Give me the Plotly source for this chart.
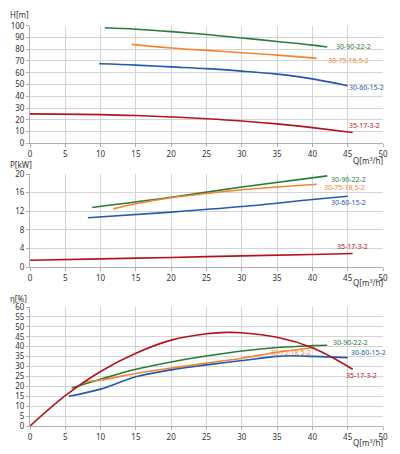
import plotly.graph_objects as go

# pump models
names = ['30-90-22-2', '30-75-18,5-2', '30-60-15-2', '35-17-3-2']
colors = ['#2a7a3b', '#f5842e', '#2359b0', '#b3141c']

# head curves H[m]
h_q = [
    [10.6, 15, 20, 25, 30, 35, 40, 42.1],
    [14.4, 20, 25, 30, 35, 40, 40.6],
    [9.8, 15, 20, 25, 30, 35, 40, 45],
    [0, 10, 15, 20, 25, 30, 35, 40, 45.7],
]
h_val = [
    [98.2, 97, 95, 92.5, 89.6, 86.6, 83.5, 81.9],
    [84.1, 81, 79, 77, 75, 72.6, 72.2],
    [67.6, 66.5, 65, 63.5, 61.4, 58.8, 54.8, 49],
    [25, 24.4, 23.6, 22.4, 20.9, 19, 16.5, 13.3, 9.2],
]

# power curves P[kW]
p_q = [
    [8.8, 20, 30, 42.1],
    [11.8, 15, 20, 25, 30, 35, 40.6],
    [8.2, 20, 30, 40, 45],
    [0, 10, 20, 30, 40, 45.7],
]
p_val = [
    [12.8, 15, 17.2, 19.6],
    [12.5, 13.6, 14.9, 15.8, 16.6, 17.2, 17.8],
    [10.6, 11.8, 13.0, 14.5, 15.2],
    [1.45, 1.75, 2.05, 2.4, 2.7, 2.9],
]

# efficiency curves eta[%]
e_q = [
    [5.9, 10, 15, 20, 25, 30, 35, 40, 42.1],
    [7.5, 10, 15, 20, 25, 30, 35, 40.3],
    [5.5, 10, 15, 20, 25, 30, 35, 37, 40, 45],
    [0, 5, 10, 15, 20, 25, 28, 30, 35, 40, 42.7, 45.7],
]
e_val = [
    [19.2, 23.6, 28.6, 32.3, 35.3, 37.8, 39.6, 40.5, 40.7],
    [22.2, 23.2, 26.5, 29.2, 31.7, 34.2, 37.2, 39.6],
    [15.0, 18.6, 24.8, 28.3, 30.8, 33.0, 35.1, 35.4, 35.1, 34.5],
    [0, 15.3, 27.5, 36.7, 43.3, 46.5, 47.2, 47.0, 44.7, 39.5, 34.8, 28.6],
]

# label positions (x, y) for each panel
h_lab = [(43.2, 82), (42.0, 70.2), (45.1, 47.4), (45.1, 15.2)]
p_lab = [(42.5, 18.9), (41.5, 17.1), (42.5, 13.8), (43.4, 4.4)]
e_lab = [(42.8, 42.3), (33.8, 37.2), (45.3, 37.1), (44.6, 25.5)]

# page has an 8px body margin, so the figure is drawn 8px in from the corner
OFF = 8
W, H = 400 - OFF, 454 - OFF


def px(x):
    return (x - OFF) / W


def py(y):
    return 1 - (y - OFF) / H


fig = go.Figure()

panels = [
    ('x', 'y', h_q, h_val, h_lab),
    ('x2', 'y2', p_q, p_val, p_lab),
    ('x3', 'y3', e_q, e_val, e_lab),
]

for xa, ya, qs, vals, labs in panels:
    for i in range(len(names)):
        fig.add_trace(go.Scatter(x=qs[i], y=vals[i], mode='lines',
                                 line=dict(color=colors[i], width=1.6, shape='spline'),
                                 xaxis=xa, yaxis=ya, showlegend=False,
                                 hoverinfo='skip'))
        fig.add_annotation(x=labs[i][0], y=labs[i][1], xref=xa, yref=ya,
                           text=names[i], showarrow=False, xanchor='left',
                           yanchor='middle', borderpad=0,
                           font=dict(family='Noto Sans', size=7, color=colors[i]))

grid = '#d4d4d4'
tickfont = dict(family='Noto Sans', size=8, color='#333333')
xdom = [px(30), px(383)]

xax = dict(range=[0, 50], dtick=5, showgrid=True, gridcolor=grid, gridwidth=1.2,
           zeroline=False, showline=True, linecolor='#b0b0b0', mirror=False,
           ticks='outside', ticklen=3, tickcolor='#b0b0b0', tickfont=tickfont,
           domain=xdom, fixedrange=True, automargin=False)

fig.update_layout(
    width=W, height=H,
    margin=dict(l=0, r=0, t=0, b=0, autoexpand=False),
    paper_bgcolor='white', plot_bgcolor='white',
    xaxis=dict(xax, anchor='y'),
    xaxis2=dict(xax, anchor='y2'),
    xaxis3=dict(xax, anchor='y3'),
    yaxis=dict(range=[0, 100], dtick=10, domain=[py(143.3), py(25.7)], anchor='x'),
    yaxis2=dict(range=[0, 20], dtick=4, domain=[py(267), py(174)], anchor='x2'),
    yaxis3=dict(range=[0, 60], dtick=5, domain=[py(426), py(307)], anchor='x3'),
)

fig.update_yaxes(showgrid=True, gridcolor=grid, gridwidth=1, zeroline=False,
                 showline=True, linecolor='#b0b0b0', ticks='outside', ticklen=3,
                 tickcolor='#b0b0b0', tickfont=tickfont, fixedrange=True,
                 automargin=False)

# axis titles
labfont = dict(family='Noto Sans', size=8, color='#333333')
for txt, ypix in [('H[m]', 14), ('P[kW]', 164), ('η[%]', 298)]:
    fig.add_annotation(x=px(8), y=py(ypix), xref='paper', yref='paper',
                       text=txt, showarrow=False, xanchor='left', yanchor='middle',
                       font=labfont)
for ypix in [160, 282, 442]:
    fig.add_annotation(x=px(385), y=py(ypix), xref='paper', yref='paper',
                       text='Q[m<sup>3</sup>/h]', showarrow=False, xanchor='right',
                       yanchor='middle', font=labfont)

fig.write_html("out.html")
